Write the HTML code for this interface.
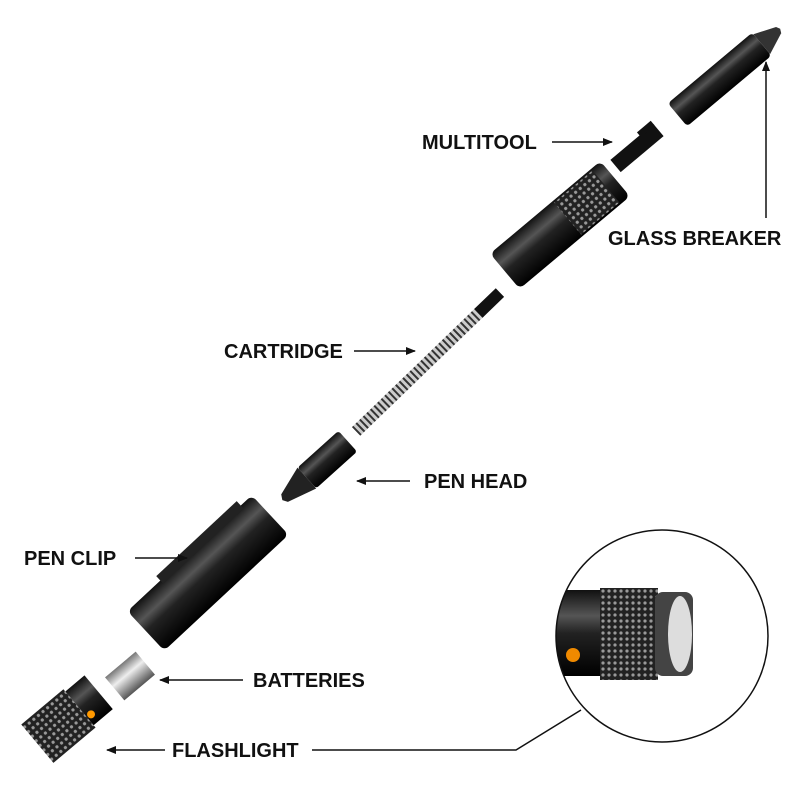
<!DOCTYPE html>
<html><head><style>
body{margin:0;background:#fff;}
svg{display:block}
text{font-family:"Liberation Sans",sans-serif;font-weight:bold;font-size:20px;fill:#111}
</style></head><body>
<svg width="800" height="800" viewBox="0 0 800 800">
<defs>
<marker id="a" markerWidth="10" markerHeight="8" refX="9" refY="4" orient="auto" markerUnits="userSpaceOnUse"><path d="M0,0 L10,4 L0,8 Z" fill="#111"/></marker>
<linearGradient id="m" x1="0" y1="0" x2="0" y2="1"><stop offset="0" stop-color="#111"/><stop offset="0.3" stop-color="#555"/><stop offset="0.5" stop-color="#222"/><stop offset="1" stop-color="#000"/></linearGradient>
<linearGradient id="s" x1="0" y1="0" x2="0" y2="1"><stop offset="0" stop-color="#777"/><stop offset="0.4" stop-color="#eee"/><stop offset="1" stop-color="#555"/></linearGradient>
<pattern id="k" width="6" height="6" patternUnits="userSpaceOnUse"><rect width="6" height="6" fill="#222"/><circle cx="3" cy="3" r="1.6" fill="#999"/></pattern>
<pattern id="sp" width="5" height="10" patternUnits="userSpaceOnUse"><rect width="5" height="10" fill="#ccc"/><rect width="2" height="10" fill="#333"/></pattern>
<clipPath id="c"><circle cx="662" cy="636" r="106"/></clipPath>
</defs>
<g transform="translate(725,75) rotate(-40)"><rect x="-62" y="-15" width="110" height="30" rx="4" fill="url(#m)"/><path d="M48,-13 L70,-4 L72,0 L70,4 L48,13Z" fill="#333"/></g>
<g transform="translate(637,148) rotate(-40)"><rect x="-28" y="-8" width="56" height="16" fill="#111"/><rect x="10" y="-12" width="18" height="6" fill="#111"/></g>
<g transform="translate(560,225) rotate(-40)"><rect x="-72" y="-23" width="144" height="46" rx="6" fill="url(#m)"/><rect x="10" y="-21" width="50" height="42" fill="url(#k)"/></g>
<g transform="translate(428,362) rotate(-44)"><rect x="-100" y="-6" width="175" height="12" fill="url(#sp)"/><rect x="70" y="-6" width="30" height="12" fill="#111"/></g>
<g transform="translate(318,468) rotate(-42)"><rect x="-15" y="-14" width="55" height="28" rx="3" fill="url(#m)"/><path d="M-15,-14 L-45,-5 L-48,0 L-45,5 L-15,14Z" fill="#222"/></g>
<g transform="translate(208,573) rotate(-43)"><rect x="-85" y="-27" width="170" height="54" rx="6" fill="url(#m)"/><rect x="-40" y="-33" width="110" height="10" fill="#222"/></g>
<g transform="translate(130,676) rotate(-40)"><rect x="-20" y="-15" width="40" height="30" fill="url(#s)"/></g>
<g transform="translate(68,718) rotate(-40)"><rect x="-40" y="-25" width="55" height="50" fill="url(#k)"/><rect x="15" y="-22" width="25" height="44" fill="url(#m)"/><circle cx="20" cy="12" r="4" fill="#f90"/></g>
<g clip-path="url(#c)">
<rect x="540" y="590" width="70" height="86" rx="8" fill="url(#m)"/>
<rect x="600" y="588" width="58" height="92" fill="url(#k)"/>
<rect x="655" y="592" width="38" height="84" rx="8" fill="#444"/>
<ellipse cx="680" cy="634" rx="12" ry="38" fill="#ddd"/>
<circle cx="573" cy="655" r="7" fill="#f08a00"/>
</g>
<circle cx="662" cy="636" r="106" fill="none" stroke="#111" stroke-width="1.5"/>
<polyline points="312,750 516,750 581,710" fill="none" stroke="#111" stroke-width="1.5"/>
<text x="422" y="149">MULTITOOL</text>
<line x1="552" y1="142" x2="612" y2="142" stroke="#111" stroke-width="1.5" marker-end="url(#a)"/>
<text x="608" y="245">GLASS BREAKER</text>
<line x1="766" y1="218" x2="766" y2="62" stroke="#111" stroke-width="1.5" marker-end="url(#a)"/>
<text x="224" y="358">CARTRIDGE</text>
<line x1="354" y1="351" x2="415" y2="351" stroke="#111" stroke-width="1.5" marker-end="url(#a)"/>
<text x="424" y="488">PEN HEAD</text>
<line x1="410" y1="481" x2="357" y2="481" stroke="#111" stroke-width="1.5" marker-end="url(#a)"/>
<text x="24" y="565">PEN CLIP</text>
<line x1="135" y1="558" x2="187" y2="558" stroke="#111" stroke-width="1.5" marker-end="url(#a)"/>
<text x="253" y="687">BATTERIES</text>
<line x1="243" y1="680" x2="160" y2="680" stroke="#111" stroke-width="1.5" marker-end="url(#a)"/>
<text x="172" y="757">FLASHLIGHT</text>
<line x1="165" y1="750" x2="107" y2="750" stroke="#111" stroke-width="1.5" marker-end="url(#a)"/>
</svg>
</body></html>
